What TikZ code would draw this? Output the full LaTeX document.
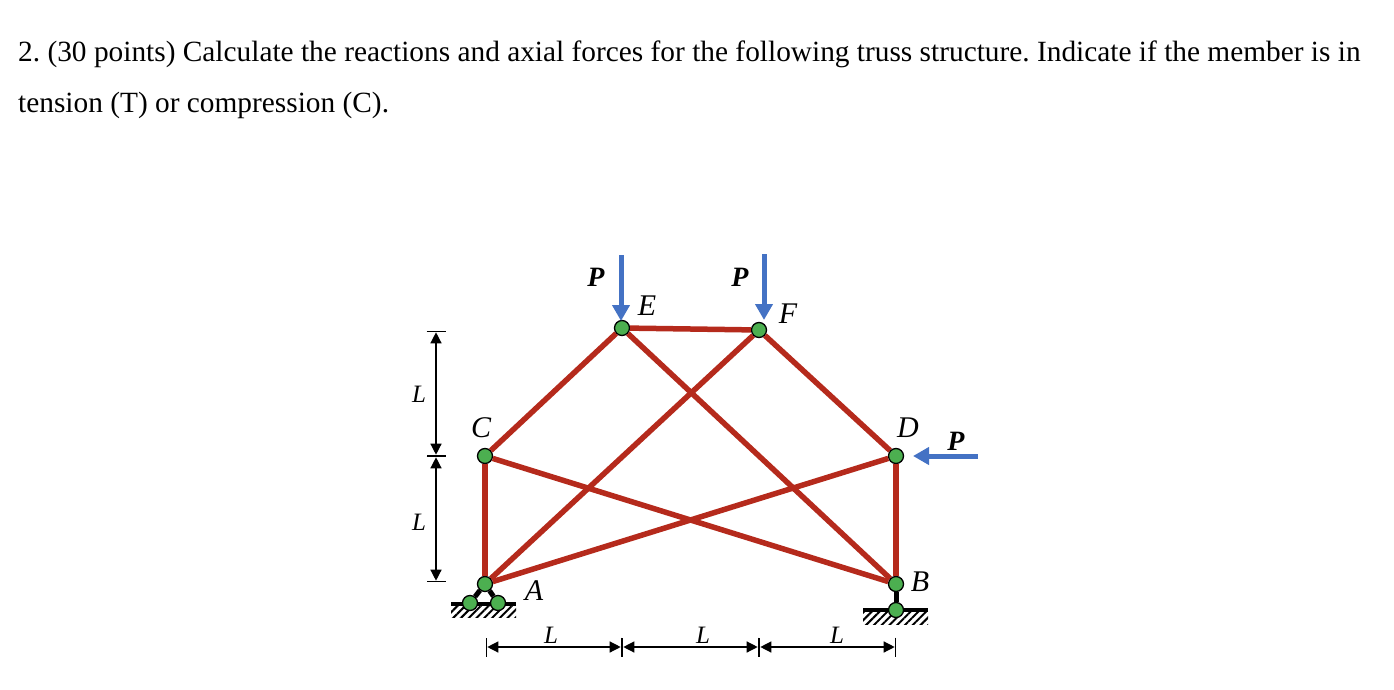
\documentclass[tikz,border=0pt]{standalone}
\usepackage{fontspec}
\setmainfont{Liberation Serif}
\usetikzlibrary{arrows.meta,patterns.meta}
\definecolor{memberred}{RGB}{181,42,28}
\definecolor{loadblue}{RGB}{68,114,196}
\definecolor{jointgreen}{RGB}{76,175,80}
\tikzset{
	joint/.style={circle, draw=black, line width=1.3pt, fill=jointgreen, minimum size=15pt, inner sep=0pt},
	member/.style={draw=memberred, line width=5.5pt},
	link/.style={draw=black, line width=5pt},
	load/.style={draw=loadblue, line width=5pt, -{Triangle[length=16pt,width=17pt]}},
	dimline/.style={draw=black, line width=1.3pt, {Bar[width=19pt,line width=1.3pt,sep=0pt].Triangle[length=11pt,width=11pt]}-{Triangle[length=11pt,width=11pt].Bar[width=19pt,line width=1.3pt,sep=0pt]}},
	ground/.style={pattern={Lines[angle=45,distance=5.5pt,line width=2pt]}, draw=none},
	groundtop/.style={draw=black, line width=3.2pt},
	dimlabel/.style={font=\fontsize{25}{25}\selectfont\itshape, inner sep=0pt},
	pointlabel/.style={font=\fontsize{30}{30}\selectfont\itshape, inner sep=0pt},
	loadlabel/.style={font=\fontsize{28}{28}\selectfont\bfseries\itshape, inner sep=0pt},
	textline/.style={font=\fontsize{29.35}{29.35}\selectfont\frenchspacing, inner sep=0pt, anchor=base west}
}
\begin{document}
\begin{tikzpicture}[x=1pt,y=-1pt]
	\useasboundingbox (0,0) rectangle (1394,690);
	% question text
	\node[textline] (line1) at (18,62) {2. (30 points) Calculate the reactions and axial forces for the following truss structure. Indicate if the member is in};
	\node[textline] (line2) at (18,113) {tension (T) or compression (C).};
	% ground
	\fill[ground] (451,604) rectangle (516,617);
	\fill[ground] (863,611) rectangle (928,624);
	\coordinate (gal) at (451,604);
	\coordinate (gar) at (516,604);
	\coordinate (gbl) at (863,610);
	\coordinate (gbr) at (928,610);
	\draw[groundtop] (gal) -- (gar);
	\draw[groundtop] (gbl) -- (gbr);
	% joints
	\node[joint] (A) at (485,584) {};
	\node[joint] (B) at (896,584) {};
	\node[joint] (C) at (485,456) {};
	\node[joint] (D) at (896,456) {};
	\node[joint] (E) at (622,328) {};
	\node[joint] (F) at (759,330) {};
	\node[joint] (A1) at (470,603) {};
	\node[joint] (A2) at (498,603) {};
	\node[joint] (B1) at (896,610) {};
	% members
	\path[member]
	(C) edge (E) edge (A) edge (B)
	(F) edge (E) edge (A) edge (D)
	(E) edge (B)
	(D) edge (A) edge (B);
	\path[link]
	(A) edge (A1) edge (A2)
	(B) edge (B1);
	% loads
	\coordinate (pe) at (621,255);
	\coordinate (pet) at (621,321);
	\coordinate (pf) at (764,254);
	\coordinate (pft) at (764,320);
	\coordinate (pd) at (978,456);
	\coordinate (pdt) at (913,456);
	\draw[load] (pe) -- (pet);
	\draw[load] (pf) -- (pft);
	\draw[load] (pd) -- (pdt);
	% dimensions
	\coordinate (v1) at (436,331);
	\coordinate (v2) at (436,456);
	\coordinate (v3) at (436,582);
	\coordinate (h1) at (486,647);
	\coordinate (h2) at (622,647);
	\coordinate (h3) at (759,647);
	\coordinate (h4) at (896,647);
	\draw[dimline] (v1) -- (v2);
	\draw[dimline] (v2) -- (v3);
	\draw[dimline] (h1) -- (h2);
	\draw[dimline] (h2) -- (h3);
	\draw[dimline] (h3) -- (h4);
	% labels
	\node[pointlabel] (la) at (534,591) {A};
	\node[pointlabel] (lb) at (920,582) {B};
	\node[pointlabel] (lc) at (481,428) {C};
	\node[pointlabel] (ld) at (908,428) {D};
	\node[pointlabel] (le) at (647,306) {E};
	\node[pointlabel] (lf) at (788,314) {F};
	\node[loadlabel] (p1) at (596,277) {P};
	\node[loadlabel] (p2) at (740,277) {P};
	\node[loadlabel] (p3) at (956,441) {P};
	\node[dimlabel] (l1) at (419,394) {L};
	\node[dimlabel] (l2) at (419,522) {L};
	\node[dimlabel] (l3) at (551,635) {L};
	\node[dimlabel] (l4) at (703,635) {L};
	\node[dimlabel] (l5) at (837,635) {L};
\end{tikzpicture}
\end{document}
